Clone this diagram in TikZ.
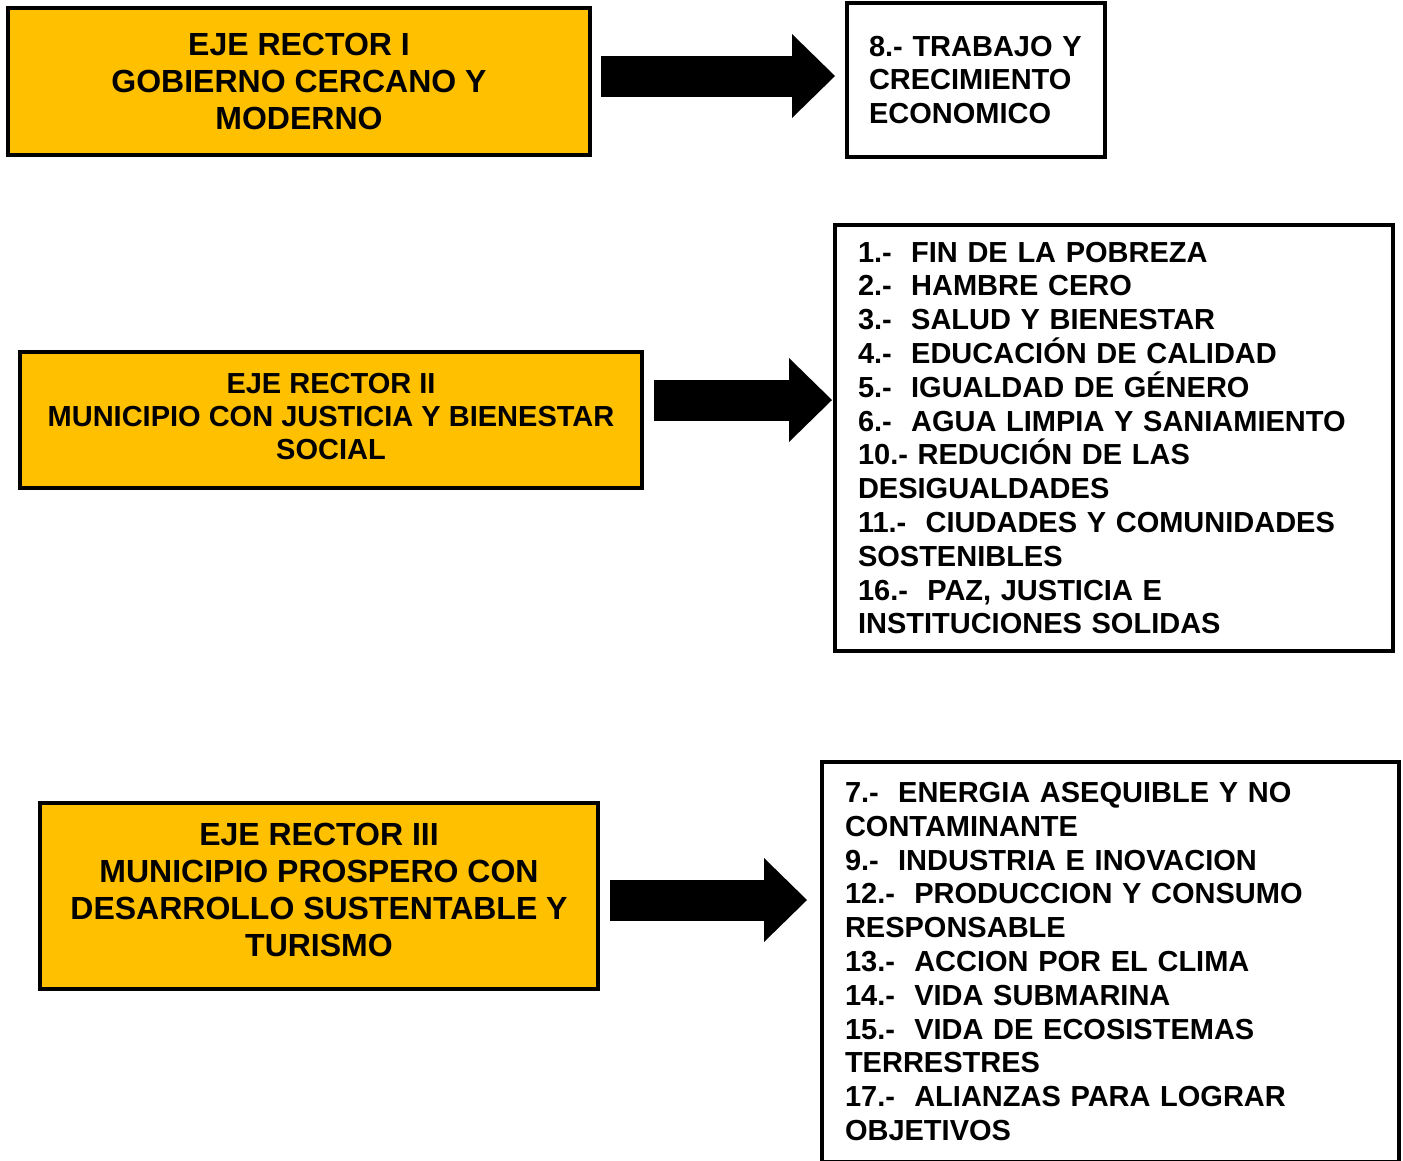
\documentclass[tikz,border=0pt]{standalone}
\usepackage{fontspec}
\setmainfont{Liberation Sans}
\usepackage{xcolor}
\usetikzlibrary{arrows.meta}
\definecolor{ejeamarillo}{HTML}{FFC000}

\begin{document}
\begin{tikzpicture}[x=1pt,y=-1pt,
		eje/.style={draw,line width=4pt,fill=ejeamarillo,align=center,inner sep=0pt,
			font=\fontsize{32}{37}\selectfont\bfseries},
		ods/.style={draw,line width=4pt,fill=white,align=left,inner xsep=23pt,inner ysep=0pt,
			font=\fontsize{29}{33.8}\selectfont\bfseries},
		flecha/.style={line width=41pt,-{Triangle[length=43pt,width=84pt,line width=0pt]}}]
		\useasboundingbox (0,0) rectangle (1403,1160);
		
		\node[eje,minimum width=582pt,minimum height=147pt] (eje1) at (299,81.5)
			{EJE RECTOR I\\GOBIERNO CERCANO Y\\MODERNO};
		\node[ods,inner xsep=22pt,text width=214pt,minimum height=154pt] (ods1) at (976,80)
			{8.- TRABAJO Y\\CRECIMIENTO\\ECONOMICO};
		
		\node[eje,minimum width=622pt,minimum height=136pt,text depth=8pt,font=\fontsize{29}{33}\selectfont\bfseries] (eje2) at (331,420)
			{EJE RECTOR II\\MUNICIPIO CON JUSTICIA Y BIENESTAR\\SOCIAL};
		\node[ods,text width=512pt,minimum height=426pt] (ods2) at (1114,438)
			{1.-~ FIN DE LA POBREZA\\
			 2.-~ HAMBRE CERO\\
			 3.-~ SALUD Y BIENESTAR\\
			 4.-~ EDUCACIÓN DE CALIDAD\\
			 5.-~ IGUALDAD DE GÉNERO\\
			 6.-~ AGUA LIMPIA Y SANIAMIENTO\\
			 10.- REDUCIÓN DE LAS\\
			 DESIGUALDADES\\
			 11.-~ CIUDADES Y COMUNIDADES\\
			 SOSTENIBLES\\
			 16.-~ PAZ, JUSTICIA E\\
			 INSTITUCIONES SOLIDAS};
		
		\node[eje,minimum width=558pt,minimum height=186pt,text depth=12pt] (eje3) at (319,896)
			{EJE RECTOR III\\MUNICIPIO PROSPERO CON\\DESARROLLO SUSTENTABLE Y\\TURISMO};
		\node[ods,text width=531pt,minimum height=400pt] (ods3) at (1110.5,961.5)
			{7.-~ ENERGIA ASEQUIBLE Y NO\\
			 CONTAMINANTE\\
			 9.-~ INDUSTRIA E INOVACION\\
			 12.-~ PRODUCCION Y CONSUMO\\
			 RESPONSABLE\\
			 13.-~ ACCION POR EL CLIMA\\
			 14.-~ VIDA SUBMARINA\\
			 15.-~ VIDA DE ECOSISTEMAS\\
			 TERRESTRES\\
			 17.-~ ALIANZAS PARA LOGRAR\\
			 OBJETIVOS};
		
		\draw[flecha,shorten <=9pt,shorten >=10pt] ([yshift=5.5pt]eje1.east) -- ([yshift=5.5pt]eje1.east -| ods1.west);
		\draw[flecha,shorten <=10pt,shorten >=1pt] ([yshift=20pt]eje2.east) -- ([yshift=20pt]eje2.east -| ods2.west);
		\draw[flecha,shorten <=10pt,shorten >=13pt] ([yshift=-4pt]eje3.east) -- ([yshift=-4pt]eje3.east -| ods3.west);
	\end{tikzpicture}
\end{document}
